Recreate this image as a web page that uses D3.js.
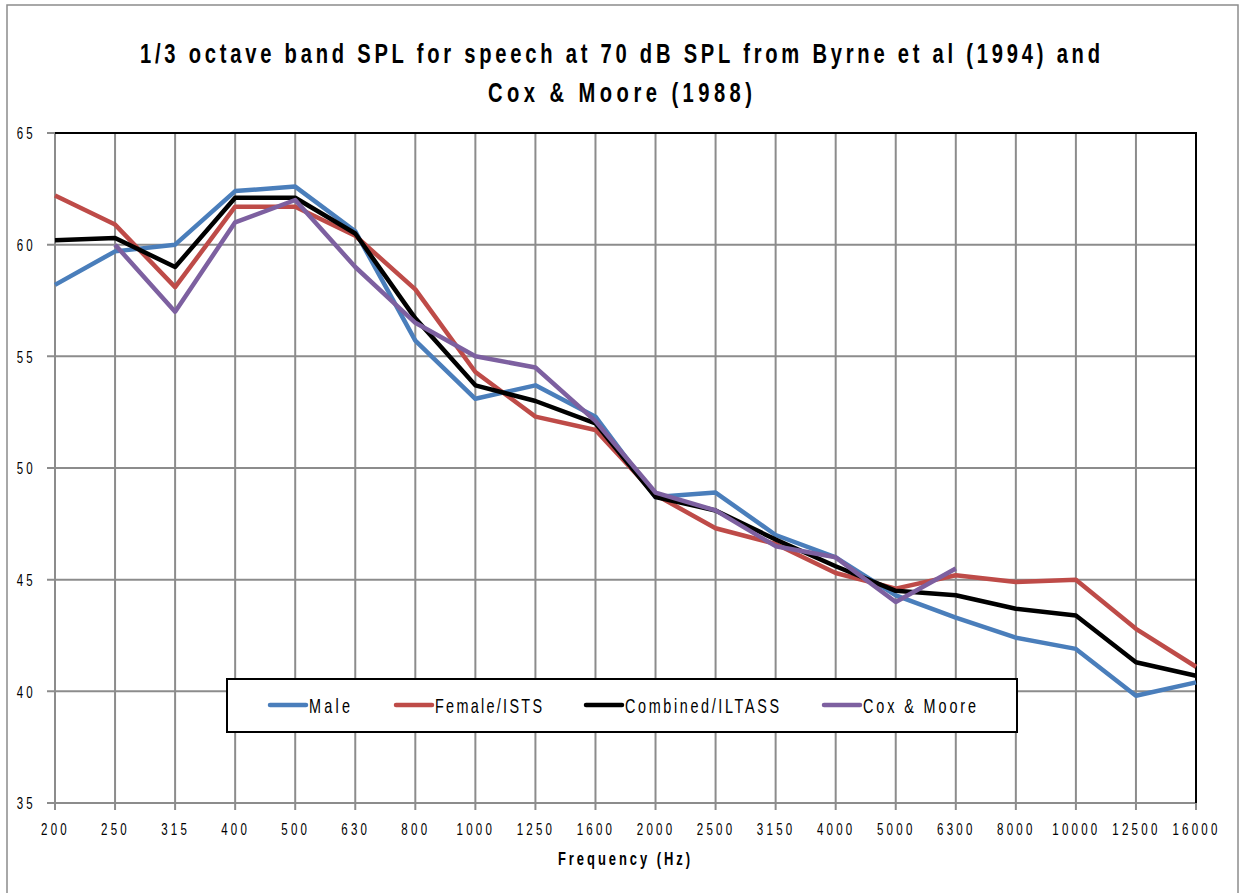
<!DOCTYPE html>
<html>
<head>
<meta charset="utf-8">
<script src="https://cdn.jsdelivr.net/npm/d3@7"></script>
<style>
  html, body { margin: 0; padding: 0; background: #fff; }
  svg { display: block; }
  text { font-family: "Liberation Sans", Arial, sans-serif; fill: #000; }
</style>
</head>
<body>
<svg id="chart" width="1239" height="893"></svg>
<script>
// 1/3-octave band centre frequencies (Hz)
const bands = ["200","250","315","400","500","630","800","1000","1250","1600",
               "2000","2500","3150","4000","5000","6300","8000","10000","12500","16000"];

// Band levels, dB SPL
const male     = [58.2, 59.7, 60.0, 62.4, 62.6, 60.6, 55.7, 53.1, 53.7, 52.3,
                  48.7, 48.9, 47.0, 46.0, 44.3, 43.3, 42.4, 41.9, 39.8, 40.4];
const female   = [62.2, 60.9, 58.1, 61.7, 61.7, 60.4, 58.0, 54.3, 52.3, 51.7,
                  48.8, 47.3, 46.6, 45.3, 44.6, 45.2, 44.9, 45.0, 42.8, 41.1];
const combined = [60.2, 60.3, 59.0, 62.1, 62.1, 60.5, 56.7, 53.7, 53.0, 52.0,
                  48.7, 48.1, 46.8, 45.6, 44.5, 44.3, 43.7, 43.4, 41.3, 40.7];
const coxMoore = [null, 60.0, 57.0, 61.0, 62.0, 59.0, 56.5, 55.0, 54.5, 52.1,
                  48.9, 48.1, 46.5, 46.0, 44.0, 45.5, null, null, null, null];

const yTicks = [35, 40, 45, 50, 55, 60, 65];

const seriesNames  = ["Male", "Female/ISTS", "Combined/ILTASS", "Cox & Moore"];
const seriesValues = [male, female, combined, coxMoore];
const seriesColors = ["#4a7ebb", "#be4b48", "#000000", "#7d60a0"];

const titleLines = ["1/3 octave band SPL for speech at 70 dB SPL from  Byrne et al (1994) and",
                    "Cox & Moore (1988)"];
const xTitle = "Frequency (Hz)";

// ---- layout ----
const svg = d3.select("#chart");
const plot = { left: 55, right: 1196, top: 133, bottom: 803 };
const gridColor = "#8c8c8c";
const narrow = 0.72;   // horizontal squeeze for the condensed lettering

// Draws condensed text: squeezed horizontally, stretched to a given width.
function condensedText(parent, str, cx, cy, opts) {
  const g = parent.append("g")
    .attr("transform", `translate(${cx},${cy}) scale(${narrow},1)`);
  const t = g.append("text")
    .attr("x", 0).attr("y", 0)
    .attr("text-anchor", opts.anchor || "middle")
    .style("font-size", opts.size + "px")
    .style("font-weight", opts.bold ? "bold" : "normal")
    .text(str);
  if (opts.width) {
    t.attr("textLength", opts.width / narrow).attr("lengthAdjust", "spacing");
  }
  return t;
}

// outer chart frame
svg.append("rect")
  .attr("x", 7).attr("y", 5).attr("width", 1231).attr("height", 900)
  .attr("fill", "#fff").attr("stroke", "#8c8c8c").attr("stroke-width", 1.5);

const x = d3.scalePoint().domain(bands).range([plot.left, plot.right]);
const y = d3.scaleLinear().domain([35, 65]).range([plot.bottom, plot.top]);

// title
condensedText(svg, titleLines[0], 620, 63, { size: 28, bold: true, width: 960 });
condensedText(svg, titleLines[1], 620, 102, { size: 28, bold: true, width: 264 });

// grid: horizontal lines (extending left as tick marks)
svg.append("g").selectAll("line").data(yTicks).join("line")
  .attr("x1", plot.left - 8).attr("x2", plot.right)
  .attr("y1", d => y(d)).attr("y2", d => y(d))
  .attr("stroke", gridColor).attr("stroke-width", 2);

// grid: vertical lines (extending down as tick marks)
svg.append("g").selectAll("line").data(bands).join("line")
  .attr("x1", d => x(d)).attr("x2", d => x(d))
  .attr("y1", plot.top).attr("y2", plot.bottom + 7)
  .attr("stroke", gridColor).attr("stroke-width", 2);

// black top and right frame of the plot area
svg.append("path")
  .attr("d", `M${plot.left},${plot.top}H${plot.right}V${plot.bottom}`)
  .attr("fill", "none").attr("stroke", "#000").attr("stroke-width", 2);

// y-axis labels
const gy = svg.append("g")
  .attr("transform", `translate(${plot.left - 19},0)`)
  .call(d3.axisLeft(y).tickValues(yTicks).tickSize(0).tickPadding(0));
gy.attr("font-family", null).attr("font-size", null);
gy.select(".domain").remove();
gy.selectAll(".tick text")
  .attr("x", 0).attr("dy", "0.36em")
  .attr("fill", "#000")
  .attr("transform", `scale(${narrow},1)`)
  .style("font-size", "16px").style("letter-spacing", "4.5px");

// x-axis labels
const gx = svg.append("g")
  .attr("transform", `translate(0,${plot.bottom + 32})`)
  .call(d3.axisBottom(x).tickSize(0).tickPadding(0));
gx.attr("font-family", null).attr("font-size", null);
gx.select(".domain").remove();
gx.selectAll(".tick text")
  .attr("y", 0).attr("dy", 0)
  .attr("fill", "#000")
  .attr("transform", `scale(${narrow},1)`)
  .style("font-size", "16px").style("letter-spacing", "4.5px");

// x-axis title
condensedText(svg, xTitle, 624, 865, { size: 18, bold: true, width: 132 });

// series lines
const line = d3.line()
  .defined(d => d.v != null)
  .x(d => x(d.band))
  .y(d => y(d.v));

seriesValues.forEach((vals, i) => {
  svg.append("path")
    .datum(vals.map((v, j) => ({ band: bands[j], v })))
    .attr("d", line)
    .attr("fill", "none")
    .attr("stroke", seriesColors[i])
    .attr("stroke-width", 4.5)
    .attr("stroke-linejoin", "round");
});

// legend
const legend = svg.append("g");
legend.append("rect")
  .attr("x", 227).attr("y", 679).attr("width", 790).attr("height", 53)
  .attr("fill", "#fff").attr("stroke", "#000").attr("stroke-width", 2);

const legendX = [270, 396, 586, 824];
const legendW = [41, 107, 154, 113];
seriesNames.forEach((name, i) => {
  const gi = legend.append("g").attr("transform", `translate(${legendX[i]},705)`);
  gi.append("line")
    .attr("x1", 0).attr("x2", 36).attr("y1", 0).attr("y2", 0)
    .attr("stroke", seriesColors[i]).attr("stroke-width", 4.5)
    .attr("stroke-linecap", "round");
  condensedText(gi, name, 39, 8, { size: 20, anchor: "start", width: legendW[i] });
});
</script>
</body>
</html>
